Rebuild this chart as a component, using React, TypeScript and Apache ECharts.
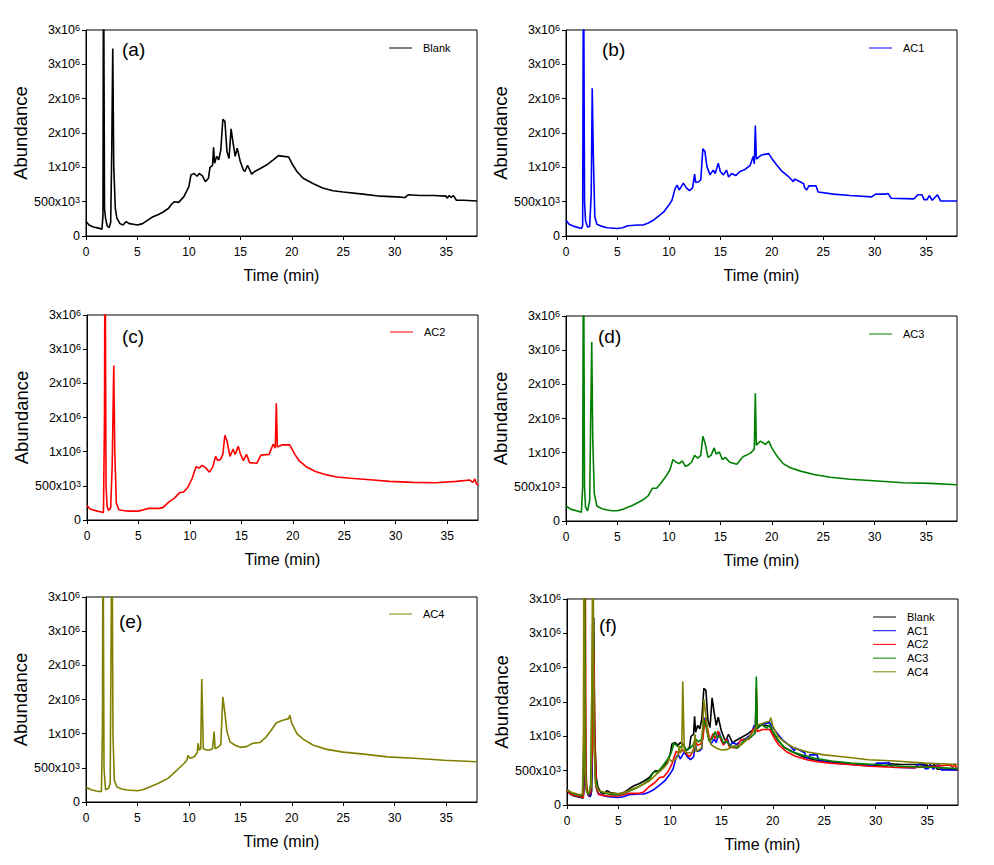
import React, { useEffect, useRef } from 'react';
import * as echarts from 'echarts';

const FONT = 'Arial, "Liberation Sans", Helvetica, sans-serif';

const seriesNames = ['Blank', 'AC1', 'AC2', 'AC3', 'AC4'];
const seriesColors = ['#000000', '#0000ff', '#ff0000', '#008000', '#808000'];
const panelLetters = ['(a)', '(b)', '(c)', '(d)', '(e)', '(f)'];
const panelSeries = [[0], [1], [2], [3], [4], [0, 1, 2, 3, 4]];

const xTicks = [0, 5, 10, 15, 20, 25, 30, 35];
// tick values are in units of 10^6
const yTickBase = ['0', '500x10', '1x10', '2x10', '2x10', '3x10', '3x10'];
const yTickExp = ['', '3', '6', '6', '6', '6', '6'];

// [time (min), abundance (x10^6)]
const blank: number[][] = [
  [0, 0.21], [0.3, 0.16], [0.7, 0.13], [1.2, 0.115], [1.55, 0.1], [1.65, 0.3], [1.7, 4.5], [1.8, 0.4],
  [1.9, 0.26], [2.05, 0.15], [2.25, 0.12], [2.4, 0.2], [2.5, 1.2], [2.6, 2.73], [2.7, 1.0], [2.85, 0.4],
  [3.0, 0.26], [3.3, 0.18], [3.6, 0.16], [3.9, 0.21], [4.2, 0.18], [4.6, 0.17], [5.0, 0.16], [5.5, 0.18],
  [6.0, 0.23], [6.5, 0.28], [7.0, 0.31], [7.5, 0.35], [8.0, 0.4], [8.3, 0.46], [8.6, 0.5], [9.0, 0.49],
  [9.5, 0.57], [10.0, 0.72], [10.2, 0.89], [10.5, 0.91], [10.8, 0.87], [11.0, 0.91], [11.3, 0.88],
  [11.6, 0.79], [11.9, 0.84], [12.05, 1.0], [12.3, 1.03], [12.4, 1.29], [12.5, 1.06], [12.7, 1.16],
  [12.9, 1.11], [13.1, 1.25], [13.3, 1.7], [13.5, 1.67], [13.7, 1.23], [13.9, 1.13], [14.1, 1.56],
  [14.3, 1.35], [14.5, 1.16], [14.7, 1.28], [15.0, 1.08], [15.3, 0.96], [15.45, 0.94], [15.7, 1.03],
  [16.1, 0.9], [16.4, 0.94], [16.9, 0.98], [17.5, 1.03], [18.2, 1.11], [18.7, 1.17], [19.2, 1.16],
  [19.7, 1.15], [20.0, 1.06], [20.5, 0.94], [21.1, 0.84], [22.1, 0.76], [23.0, 0.7], [24.0, 0.66],
  [25.0, 0.64], [26.9, 0.61], [28.6, 0.58], [30.2, 0.57], [31.0, 0.56], [31.3, 0.6], [32.5, 0.59],
  [33.8, 0.59], [35.0, 0.58], [35.1, 0.55], [35.3, 0.59], [35.5, 0.56], [35.7, 0.59], [36.0, 0.52],
  [36.7, 0.52], [38, 0.51],
];

const ac1: number[][] = [
  [0, 0.23], [0.3, 0.17], [0.8, 0.14], [1.5, 0.11], [1.62, 0.15], [1.7, 4.5], [1.8, 0.5], [1.9, 0.22],
  [2.1, 0.13], [2.3, 0.14], [2.45, 0.6], [2.55, 2.15], [2.65, 1.2], [2.8, 0.28], [3.0, 0.17], [3.5, 0.14],
  [4.0, 0.12], [5.0, 0.11], [5.5, 0.12], [6.0, 0.15], [7.0, 0.16], [7.5, 0.16], [8.0, 0.19], [8.5, 0.23],
  [9.0, 0.29], [9.5, 0.35], [10.0, 0.45], [10.3, 0.52], [10.6, 0.69], [10.8, 0.74], [11.0, 0.67],
  [11.2, 0.72], [11.4, 0.77], [11.7, 0.7], [12.0, 0.66], [12.3, 0.7], [12.5, 0.9], [12.6, 0.78],
  [12.9, 0.79], [13.1, 0.82], [13.3, 1.27], [13.5, 1.23], [13.7, 1.01], [14.0, 0.89], [14.3, 0.96],
  [14.5, 0.91], [14.8, 1.06], [15.0, 0.94], [15.3, 0.89], [15.6, 0.96], [15.8, 0.86], [16.1, 0.91],
  [16.5, 0.88], [16.9, 0.94], [17.4, 0.97], [17.9, 1.03], [18.2, 1.16], [18.3, 1.05], [18.4, 1.61],
  [18.5, 1.12], [19.0, 1.18], [19.7, 1.2], [20.0, 1.13], [20.5, 1.03], [21.0, 0.94], [21.6, 0.87],
  [22.1, 0.79], [22.2, 0.83], [22.6, 0.8], [23.1, 0.76], [23.2, 0.7], [23.4, 0.67], [23.6, 0.73],
  [24.3, 0.73], [24.5, 0.64], [26.0, 0.61], [27.6, 0.59], [29.7, 0.57], [30.1, 0.61], [31.1, 0.61],
  [31.3, 0.62], [31.6, 0.55], [33.8, 0.54], [34.2, 0.6], [34.6, 0.6], [34.8, 0.53], [35.1, 0.53],
  [35.3, 0.59], [35.6, 0.52], [36.1, 0.6], [36.4, 0.51], [38, 0.51],
];

const ac2: number[][] = [
  [0, 0.21], [0.3, 0.16], [1.0, 0.13], [1.6, 0.11], [1.7, 1.5], [1.75, 4.5], [1.85, 0.5], [1.95, 0.2],
  [2.1, 0.14], [2.3, 0.18], [2.45, 0.8], [2.6, 2.26], [2.7, 1.0], [2.85, 0.25], [3.1, 0.15], [3.5, 0.14],
  [4.0, 0.13], [5.0, 0.13], [5.5, 0.15], [6.0, 0.17], [7.0, 0.17], [7.4, 0.185], [8.0, 0.27], [8.5, 0.32],
  [9.0, 0.4], [9.4, 0.41], [9.8, 0.48], [10.2, 0.6], [10.6, 0.78], [10.9, 0.76], [11.2, 0.8], [11.5, 0.77],
  [11.9, 0.7], [12.2, 0.77], [12.5, 0.93], [12.7, 0.87], [13.0, 0.89], [13.2, 0.96], [13.4, 1.24],
  [13.6, 1.16], [13.9, 0.93], [14.2, 1.04], [14.4, 0.96], [14.7, 1.08], [14.9, 0.97], [15.2, 0.87],
  [15.5, 0.96], [15.8, 0.84], [16.5, 0.83], [16.9, 0.95], [17.7, 0.96], [18.1, 1.11], [18.3, 1.05],
  [18.4, 1.71], [18.5, 1.07], [19.0, 1.1], [19.7, 1.1], [20.2, 0.96], [20.6, 0.87], [21.3, 0.78],
  [22.2, 0.71], [23.3, 0.66], [24.3, 0.63], [25.6, 0.61], [27.5, 0.59], [29.4, 0.565], [31.7, 0.55],
  [33.9, 0.545], [35.9, 0.565], [37.2, 0.585], [37.5, 0.55], [37.7, 0.6], [37.85, 0.53], [38, 0.51],
];

const ac3: number[][] = [
  [0, 0.22], [0.5, 0.17], [1.0, 0.15], [1.5, 0.13], [1.62, 0.5], [1.7, 4.5], [1.8, 0.5], [1.9, 0.2],
  [2.1, 0.15], [2.3, 0.3], [2.4, 1.5], [2.5, 2.62], [2.6, 1.2], [2.75, 0.4], [3.0, 0.22], [3.5, 0.18],
  [4.0, 0.16], [4.5, 0.15], [5.0, 0.15], [5.5, 0.17], [6.0, 0.2], [6.5, 0.23], [7.0, 0.27], [7.5, 0.31],
  [8.0, 0.37], [8.4, 0.48], [8.8, 0.48], [9.2, 0.55], [9.7, 0.65], [10.1, 0.75], [10.4, 0.9], [10.7, 0.86],
  [11.0, 0.84], [11.3, 0.88], [11.6, 0.8], [11.9, 0.82], [12.2, 0.86], [12.5, 0.96], [12.8, 0.92],
  [13.1, 0.96], [13.3, 1.24], [13.5, 1.15], [13.8, 0.93], [14.1, 0.96], [14.4, 1.07], [14.6, 0.98],
  [14.9, 1.01], [15.2, 0.9], [15.5, 0.93], [15.9, 0.86], [16.6, 0.83], [17.2, 0.94], [17.9, 0.99],
  [18.3, 1.05], [18.4, 1.87], [18.5, 1.11], [18.9, 1.17], [19.4, 1.12], [19.7, 1.17], [20.0, 1.07],
  [20.5, 0.95], [21.1, 0.84], [21.8, 0.78], [22.8, 0.73], [24.1, 0.68], [25.7, 0.64], [27.6, 0.61],
  [29.9, 0.59], [32.8, 0.56], [35.4, 0.55], [38, 0.53],
];

const ac4: number[][] = [
  [0, 0.22], [0.5, 0.18], [1.0, 0.16], [1.5, 0.15], [1.6, 1.1], [1.65, 4.5], [1.75, 0.5], [1.9, 0.18],
  [2.2, 0.2], [2.35, 0.27], [2.45, 2.6], [2.52, 4.5], [2.62, 1.0], [2.75, 0.32], [3.0, 0.22], [3.5, 0.19],
  [4.0, 0.175], [5.0, 0.165], [5.5, 0.18], [6.0, 0.21], [7.0, 0.27], [8.0, 0.35], [8.5, 0.42], [9.0, 0.49],
  [9.5, 0.56], [9.8, 0.61], [9.9, 0.68], [10.1, 0.64], [10.5, 0.66], [10.8, 0.72], [10.9, 0.86],
  [11.0, 0.76], [11.15, 0.78], [11.25, 1.8], [11.4, 0.78], [11.7, 0.76], [12.0, 0.76], [12.3, 0.78],
  [12.45, 1.03], [12.55, 0.78], [12.9, 0.81], [13.1, 0.84], [13.3, 1.54], [13.5, 1.3], [13.7, 1.03],
  [14.0, 0.88], [14.5, 0.83], [15.0, 0.8], [15.6, 0.81], [16.2, 0.86], [16.9, 0.87], [17.5, 0.95],
  [18.0, 1.05], [18.5, 1.16], [19.2, 1.2], [19.7, 1.22], [19.8, 1.27], [20.0, 1.15], [20.5, 1.0],
  [21.1, 0.92], [22.1, 0.83], [23.4, 0.77], [25.0, 0.73], [27.0, 0.7], [29.3, 0.66], [31.9, 0.64],
  [34.8, 0.61], [38, 0.59],
];

const seriesData = [blank, ac1, ac2, ac3, ac4];

const grids = [
  { left: 86, top: 30, width: 391, height: 206 },
  { left: 566, top: 30, width: 391, height: 206 },
  { left: 87, top: 315, width: 391, height: 205 },
  { left: 566, top: 316, width: 391, height: 205 },
  { left: 86, top: 597, width: 391, height: 205 },
  { left: 567, top: 599, width: 391, height: 206 },
];

const legendPos = [
  { left: 389, top: 42 },
  { left: 869, top: 42 },
  { left: 390, top: 326 },
  { left: 869, top: 328 },
  { left: 389, top: 608 },
  { left: 873, top: 611 },
];

const labelPos = [
  { x: 122, y: 49 },
  { x: 602, y: 49 },
  { x: 122, y: 336 },
  { x: 598, y: 336 },
  { x: 119, y: 621 },
  { x: 599, y: 625 },
];

function yLabel(v: number): string {
  const i = Math.round(v / 0.5);
  const base = yTickBase[i] ?? '';
  const exp = yTickExp[i] ?? '';
  return exp ? `{m|${base}}{s|${exp}}` : `{m|${base}}`;
}

export default function App() {
  const ref = useRef<HTMLDivElement>(null);

  useEffect(() => {
    if (!ref.current) return;
    const chart = echarts.init(ref.current, undefined, { renderer: 'svg' });

    const xAxes = grids.map((_, p) => ({
      type: 'value',
      gridIndex: p,
      min: 0,
      max: 38,
      interval: 5,
      name: 'Time (min)',
      nameLocation: 'middle',
      nameGap: 31,
      nameTextStyle: { fontSize: 16, fontFamily: FONT, color: '#000' },
      axisLine: { show: true, onZero: false, lineStyle: { color: '#000', width: 1 } },
      axisTick: { show: true, inside: false, length: 4, customValues: xTicks, lineStyle: { color: '#000' } },
      axisLabel: { margin: 10, fontSize: 12, fontFamily: FONT, color: '#000', customValues: xTicks },
      splitLine: { show: false },
    }));

    const yAxes = grids.map((_, p) => ({
      type: 'value',
      gridIndex: p,
      min: 0,
      max: 3,
      interval: 0.5,
      name: 'Abundance',
      nameLocation: 'middle',
      nameGap: 53,
      nameTextStyle: { fontSize: 18.5, fontFamily: FONT, color: '#000' },
      axisLine: { show: true, onZero: false, lineStyle: { color: '#000', width: 1 } },
      axisTick: { show: true, inside: false, length: 4, lineStyle: { color: '#000' } },
      axisLabel: {
        margin: 6,
        formatter: yLabel,
        rich: {
          m: { fontSize: 12.5, fontFamily: FONT, color: '#000' },
          s: { fontSize: 9, fontFamily: FONT, color: '#000', verticalAlign: 'top' },
        },
      },
      splitLine: { show: false },
    }));

    const series: any[] = [];
    panelSeries.forEach((idxs, p) => {
      idxs.forEach((i) => {
        series.push({
          type: 'line',
          name: seriesNames[i],
          xAxisIndex: p,
          yAxisIndex: p,
          data: seriesData[i],
          symbol: 'none',
          showSymbol: false,
          clip: true,
          silent: true,
          lineStyle: { color: seriesColors[i], width: 1.6 },
          itemStyle: { color: seriesColors[i] },
        });
      });
    });

    const legends = panelSeries.map((idxs, p) => ({
      data: idxs.map((i) => seriesNames[i]),
      orient: 'vertical',
      left: legendPos[p].left,
      top: legendPos[p].top,
      padding: 0,
      icon: 'rect',
      itemWidth: 23,
      itemHeight: 1,
      itemGap: 1.7,
      selectedMode: false,
      textStyle: { fontSize: 11, lineHeight: 12, fontFamily: FONT, color: '#000', padding: [0, 0, 0, 6] },
    }));

    const graphics = panelLetters.map((t, p) => ({
      type: 'text',
      x: labelPos[p].x,
      y: labelPos[p].y,
      silent: true,
      style: { text: t, fontSize: 19, fontFamily: FONT, fill: '#000', verticalAlign: 'middle', align: 'left' },
    }));

    chart.setOption({
      animation: false,
      backgroundColor: '#ffffff',
      grid: grids.map((g) => ({ ...g, show: true, borderColor: '#000', borderWidth: 1, backgroundColor: 'transparent' })),
      xAxis: xAxes,
      yAxis: yAxes,
      legend: legends,
      series,
      graphic: graphics,
    } as any);

    return () => chart.dispose();
  }, []);

  return (
    <div
      ref={ref}
      style={{ position: 'absolute', left: 0, top: 0, width: 994, height: 865, background: '#fff' }}
    />
  );
}
